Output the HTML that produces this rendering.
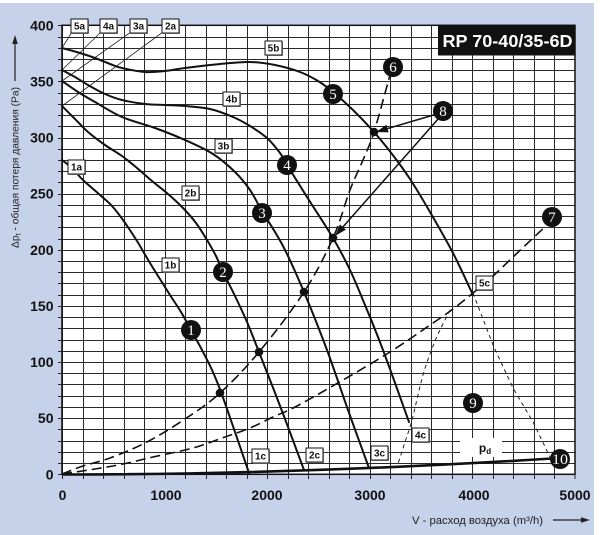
<!DOCTYPE html>
<html>
<head>
<meta charset="utf-8">
<style>
html,body{margin:0;padding:0;background:#fff;}
svg{display:block;}
text{font-family:"Liberation Sans",Arial,sans-serif;}
.tk{font-size:14px;font-weight:bold;fill:#111;}
.lb{font-size:10px;font-weight:bold;fill:#111;text-anchor:middle;}
.mk{font-family:"Liberation Serif","DejaVu Serif",serif;font-size:15px;fill:#fff;text-anchor:middle;}
</style>
</head>
<body>
<svg id="chart" width="600" height="535" viewBox="0 0 600 535" xmlns="http://www.w3.org/2000/svg">
<rect x="0" y="0" width="600" height="535" fill="#ffffff"/>
<rect x="0" y="3" width="594" height="532" fill="#c6d2e9"/>
<rect x="62" y="25" width="513" height="449" fill="#ffffff"/>

<!-- grid -->
<path fill="none" stroke="#2a2a2a" stroke-width="1" d="
M58 474.5H575 M58 463.5H575 M58 452.5H575 M58 441.5H575 M58 429.5H575 M58 418.5H575 M58 407.5H575 M58 396.5H575 M58 384.5H575 M58 373.5H575
M58 362.5H575 M58 351.5H575 M58 340.5H575 M58 328.5H575 M58 317.5H575 M58 306.5H575 M58 295.5H575 M58 283.5H575 M58 272.5H575 M58 261.5H575
M58 250.5H575 M58 239.5H575 M58 227.5H575 M58 216.5H575 M58 205.5H575 M58 194.5H575 M58 182.5H575 M58 171.5H575 M58 160.5H575 M58 149.5H575
M58 138.5H575 M58 126.5H575 M58 115.5H575 M58 104.5H575 M58 93.5H575 M58 81.5H575 M58 70.5H575 M58 59.5H575 M58 48.5H575 M58 37.5H575 M58 25.5H575
M62.5 25V479 M83.5 25V479 M103.5 25V479 M124.5 25V479 M144.5 25V479 M165.5 25V479 M185.5 25V479 M206.5 25V479 M226.5 25V479 M247.5 25V479
M267.5 25V479 M288.5 25V479 M308.5 25V479 M329.5 25V479 M349.5 25V479 M370.5 25V479 M390.5 25V479 M411.5 25V479 M431.5 25V479 M452.5 25V479
M472.5 25V479 M493.5 25V479 M513.5 25V479 M534.5 25V479 M554.5 25V479 M575 25V479"/>
<rect x="62" y="25.3" width="513" height="449" fill="none" stroke="#111" stroke-width="1.5"/>

<!-- pd white area -->
<rect x="460" y="438" width="42" height="19" fill="#ffffff"/>

<!-- title -->
<rect x="438" y="25" width="137" height="30.5" fill="#111"/>
<text x="507.5" y="47" font-size="17.5" font-weight="bold" fill="#fff" text-anchor="middle" textLength="130" lengthAdjust="spacingAndGlyphs">RP 70-40/35-6D</text>

<!-- leader lines -->
<g stroke="#222" stroke-width="0.8" fill="none">
<path d="M72 32L62 48"/>
<path d="M101 32L62 70"/>
<path d="M131 32L62 81"/>
<path d="M163 32L62 106"/>
</g>

<!-- pd curve -->
<path d="M62 474.5Q300 474.5 560 458" fill="none" stroke="#111" stroke-width="2.6"/>

<!-- dotted lines -->
<g fill="none" stroke="#222" stroke-width="1" stroke-dasharray="4 3.5">
<polyline class="sm" points="450,310 440,330 433,346 423,375 412,420 405,442 397,467"/>
<polyline points="473,293 493,345 513,388 533,422 550,457"/>
</g>

<!-- dashed system curves -->
<g fill="none" stroke="#111" stroke-width="1.6" stroke-dasharray="10 5">
<polyline class="sm" points="62,474 83,466 110,458 147,442 185,419 220,393 259,352 304,292 333,238 350,190 363,160 374,132 390,75"/>
<polyline class="sm" points="62,474 95,469 123,464 153,457 193,448 225,437 250,428 273,417 297,406 343,380 390,352 433,323 453,309 473,293 493,276 513,257 533,238 545,227"/>
</g>

<!-- fan curves -->
<g fill="none" stroke="#111" stroke-width="2" stroke-linejoin="round" stroke-linecap="round">
<polyline class="sm" points="62,48 80,53 95,58 110,64 122,68 145,72 165,71 185,68 220,64 250,62 275,65 300,72 318,81 333,92 353,110 374,132 392,154 410,179 430,212 453,253 473,295"/>
<polyline class="sm" points="62,70 75,77 88,85 105,94 122,100 145,104 165,105 185,106 210,109 233,117 250,126 267,138 280,153 287,165 307,197 333,238 350,270 365,305 383,350 409,422"/>
<polyline class="sm" points="62,81 78,92 95,102 122,117 155,128 185,140 213,154 235,172 250,190 262,211 283,246 304,292 327,350 348,410 369,468"/>
<polyline class="sm" points="62,106 75,119 88,132 105,145 122,156 137,168 152,181 168,194 183,208 196,223 207,240 216,256 223,272 235,296 247,322 259,352 282,411 304,470"/>
<polyline class="sm" points="62,160 72,168 83,180 100,195 112,206 123,220 137,241 150,263 170,295 181,312 191,330 202,350 212,370 221,392 235,432 249,473"/>
</g>

<!-- arrows from 8 -->
<g stroke="#111" stroke-width="1.5" fill="none">
<line x1="437" y1="114" x2="386" y2="129"/>
<line x1="439" y1="118" x2="342" y2="228"/>
</g>
<polygon points="376,132 388.6,132.4 386.4,124.8" fill="#111"/>
<polygon points="335,236 345.9,229.6 339.9,224.4" fill="#111"/>

<!-- intersection dots -->
<g fill="#111">
<circle cx="220" cy="393" r="4.3"/>
<circle cx="259" cy="352" r="4.3"/>
<circle cx="304" cy="292" r="4.3"/>
<circle cx="333" cy="238" r="4.3"/>
<circle cx="374" cy="132" r="4.3"/>
</g>

<!-- label boxes -->
<g>
<g fill="#999"><rect x="72" y="20" width="17" height="14"/><rect x="101" y="20" width="17" height="14"/><rect x="131" y="20" width="17" height="14"/><rect x="163" y="20" width="17" height="14"/><rect x="69" y="161" width="17" height="14"/><rect x="266" y="42" width="17" height="14"/><rect x="224" y="93" width="17" height="14"/><rect x="216" y="140" width="17" height="14"/><rect x="183" y="187" width="17" height="14"/><rect x="163" y="259" width="17" height="14"/><rect x="253" y="450" width="17" height="14"/><rect x="307" y="449" width="17" height="14"/><rect x="372" y="447" width="17" height="14"/><rect x="413" y="429" width="17" height="14"/><rect x="477" y="277" width="17" height="14"/></g>
<g fill="#fff" stroke="#111" stroke-width="1">
<rect x="71" y="19" width="17" height="14"/>
<rect x="100" y="19" width="17" height="14"/>
<rect x="130" y="19" width="17" height="14"/>
<rect x="162" y="19" width="17" height="14"/>
<rect x="68" y="160" width="17" height="14"/>
<rect x="265" y="41" width="17" height="14"/>
<rect x="223" y="92" width="17" height="14"/>
<rect x="215" y="139" width="17" height="14"/>
<rect x="182" y="186" width="17" height="14"/>
<rect x="162" y="258" width="17" height="14"/>
<rect x="252" y="449" width="17" height="14"/>
<rect x="306" y="448" width="17" height="14"/>
<rect x="371" y="446" width="17" height="14"/>
<rect x="412" y="428" width="17" height="14"/>
<rect x="476" y="276" width="17" height="14"/>
</g>
<text class="lb" x="79.5" y="29.5">5a</text>
<text class="lb" x="108.5" y="29.5">4a</text>
<text class="lb" x="138.5" y="29.5">3a</text>
<text class="lb" x="170.5" y="29.5">2a</text>
<text class="lb" x="76.5" y="170.5">1a</text>
<text class="lb" x="273.5" y="51.5">5b</text>
<text class="lb" x="231.5" y="102.5">4b</text>
<text class="lb" x="223.5" y="149.5">3b</text>
<text class="lb" x="190.5" y="196.5">2b</text>
<text class="lb" x="170.5" y="268.5">1b</text>
<text class="lb" x="260.5" y="459.5">1c</text>
<text class="lb" x="314.5" y="458.5">2c</text>
<text class="lb" x="379.5" y="456.5">3c</text>
<text class="lb" x="420.5" y="438.5">4c</text>
<text class="lb" x="484.5" y="286.5">5c</text>
</g>

<!-- pd -->
<text x="485" y="452" font-size="12" font-weight="bold" fill="#111" text-anchor="middle">p<tspan font-size="8" dy="2">d</tspan></text>

<!-- markers -->
<g fill="#111">
<circle cx="191" cy="330" r="10"/>
<circle cx="223" cy="272" r="10"/>
<circle cx="262" cy="213" r="10"/>
<circle cx="287" cy="165" r="10"/>
<circle cx="333" cy="94" r="10"/>
<circle cx="393" cy="67" r="10"/>
<circle cx="552" cy="217" r="10"/>
<circle cx="443" cy="111" r="10"/>
<circle cx="473" cy="403" r="10"/>
<circle cx="560" cy="459" r="10"/>
</g>
<text class="mk" x="191" y="335">1</text>
<text class="mk" x="223" y="277">2</text>
<text class="mk" x="262" y="218">3</text>
<text class="mk" x="287" y="170">4</text>
<text class="mk" x="333" y="99">5</text>
<text class="mk" x="393" y="72">6</text>
<text class="mk" x="552" y="222">7</text>
<text class="mk" x="443" y="116">8</text>
<text class="mk" x="473" y="408">9</text>
<text class="mk" x="560" y="464" textLength="16" lengthAdjust="spacingAndGlyphs">10</text>

<!-- y tick labels -->
<g text-anchor="end">
<text class="tk" x="53.5" y="479.3">0</text>
<text class="tk" x="53.5" y="423.2">50</text>
<text class="tk" x="53.5" y="367">100</text>
<text class="tk" x="53.5" y="310.9">150</text>
<text class="tk" x="53.5" y="254.8">200</text>
<text class="tk" x="53.5" y="198.7">250</text>
<text class="tk" x="53.5" y="142.5">300</text>
<text class="tk" x="53.5" y="86.4">350</text>
<text class="tk" x="53.5" y="30.3">400</text>
</g>
<!-- x tick labels -->
<g text-anchor="middle">
<text class="tk" x="62.5" y="500">0</text>
<text class="tk" x="166" y="500">1000</text>
<text class="tk" x="267" y="500">2000</text>
<text class="tk" x="370" y="500">3000</text>
<text class="tk" x="474" y="500">4000</text>
<text class="tk" x="575" y="500">5000</text>
</g>

<!-- axis titles -->
<text transform="translate(18.5,167.5) rotate(-90)" font-size="10.4" fill="#222" text-anchor="middle" textLength="161" lengthAdjust="spacingAndGlyphs">Δp<tspan font-size="7.5" dy="2">t</tspan><tspan dy="-2"> - общая потеря давления (Pa)</tspan></text>
<line x1="15" y1="81" x2="15" y2="42" stroke="#222" stroke-width="1.2"/>
<polygon points="15,35 12.2,44 17.8,44" fill="#222"/>

<text x="477.5" y="524" font-size="10.8" fill="#222" text-anchor="middle" textLength="131" lengthAdjust="spacingAndGlyphs">V - расход воздуха (m³/h)</text>
<line x1="553" y1="520" x2="583" y2="520" stroke="#222" stroke-width="1.2"/>
<polygon points="590,520 581,517.2 581,522.8" fill="#222"/>
</svg>
<script>
(function(){
  try{
    var ns="http://www.w3.org/2000/svg";
    var pls=document.querySelectorAll("polyline.sm");
    for(var k=0;k<pls.length;k++){
      var pl=pls[k];
      var raw=pl.getAttribute("points").trim().split(/\s+/);
      var p=[];
      for(var i=0;i<raw.length;i++){var a=raw[i].split(",");p.push([+a[0],+a[1]]);}
      var d="M"+p[0][0]+" "+p[0][1];
      for(var i=0;i<p.length-1;i++){
        var p0=p[i-1]||p[i],p1=p[i],p2=p[i+1],p3=p[i+2]||p[i+1];
        var c1x=p1[0]+(p2[0]-p0[0])/6,c1y=p1[1]+(p2[1]-p0[1])/6;
        var c2x=p2[0]-(p3[0]-p1[0])/6,c2y=p2[1]-(p3[1]-p1[1])/6;
        d+=" C"+c1x.toFixed(2)+" "+c1y.toFixed(2)+" "+c2x.toFixed(2)+" "+c2y.toFixed(2)+" "+p2[0]+" "+p2[1];
      }
      var path=document.createElementNS(ns,"path");
      path.setAttribute("d",d);
      pl.parentNode.replaceChild(path,pl);
    }
  }catch(e){}
})();
</script>
</body>
</html>
